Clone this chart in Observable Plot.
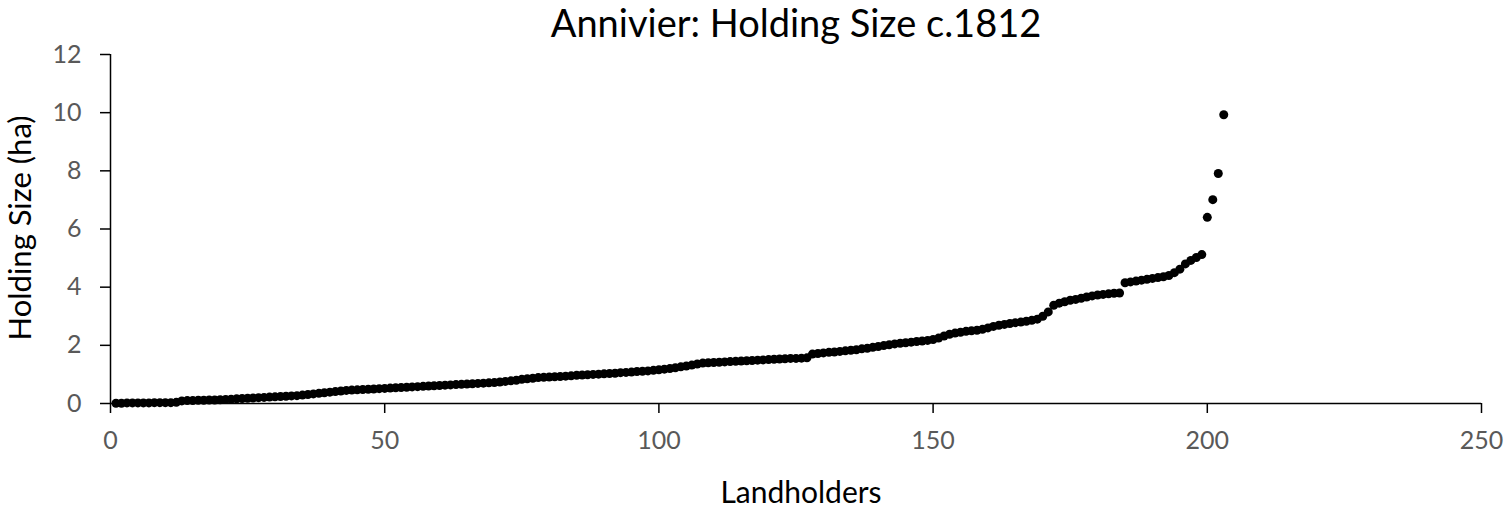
<!DOCTYPE html>
<html>
<head>
<meta charset="utf-8">
<script src="https://cdn.jsdelivr.net/npm/d3@7"></script>
<script src="https://cdn.jsdelivr.net/npm/@observablehq/plot@0.6"></script>
<style>
  html, body { margin: 0; padding: 0; background: #fff; }
  svg { display: block; }
</style>
</head>
<body>
<div id="chart"></div>
<script>
// Holding size (ha) of each landholder, sorted ascending (rank 1..203)
const holdingSizes = [
  0.01,0.01,0.02,0.02,0.02,0.02,0.02,0.03,0.03,0.03,0.03,0.04,
  0.09,0.10,0.10,0.11,0.11,0.12,0.12,0.13,
  0.14,0.15,0.16,0.17,0.18,0.19,0.20,0.21,0.22,0.23,
  0.24,0.25,0.26,0.27,0.29,0.31,0.33,0.35,0.37,0.39,
  0.41,0.43,0.45,0.46,0.47,0.48,0.49,0.50,0.51,0.52,
  0.53,0.54,0.55,0.56,0.57,0.58,0.59,0.60,0.61,0.62,
  0.63,0.64,0.65,0.66,0.67,0.68,0.69,0.70,0.71,0.72,
  0.74,0.76,0.78,0.80,0.83,0.85,0.87,0.89,0.90,0.91,
  0.92,0.93,0.94,0.95,0.97,0.98,0.99,1.00,1.01,1.02,
  1.03,1.04,1.06,1.07,1.08,1.10,1.11,1.12,1.14,1.16,
  1.18,1.20,1.23,1.26,1.29,1.32,1.36,1.39,1.40,1.41,
  1.42,1.43,1.44,1.45,1.46,1.47,1.48,1.49,1.50,1.51,
  1.52,1.53,1.54,1.55,1.55,1.56,1.57,
  1.70,1.72,1.74,
  1.76,1.77,1.79,1.81,1.83,1.85,1.88,1.90,1.93,1.96,
  1.99,2.02,2.05,2.07,2.09,2.11,2.13,2.15,2.17,2.20,
  2.25,2.32,2.38,2.42,2.45,2.48,2.50,2.52,2.55,2.60,
  2.65,2.69,2.72,2.75,2.78,2.80,2.83,2.86,2.90,3.00,
  3.15,3.38,
  3.45,3.50,3.55,3.58,3.62,3.66,3.70,3.73,
  3.75,3.77,3.79,3.80,
  4.15,4.18,4.21,4.24,4.27,4.30,4.33,4.36,4.40,4.50,4.62,4.80,4.92,5.02,5.12,
  6.40,7.01,7.91,9.93
];
const xTicks = [0, 50, 100, 150, 200, 250];
const yTicks = [0, 2, 4, 6, 8, 10, 12];
const chartTitle = "Annivier: Holding Size c.1812";
const xTitle = "Landholders";
const yTitle = "Holding Size (ha)";

const data = holdingSizes.map((v, i) => ({rank: i + 1, size: v}));

const font = "Lato, 'Open Sans', sans-serif";
const chart = Plot.plot({
  width: 1508,
  height: 517,
  marginLeft: 110,
  marginRight: 27,
  marginTop: 54,
  marginBottom: 114,
  style: {fontFamily: font, background: "#fff"},
  x: {domain: [0, 250], ticks: xTicks},
  y: {domain: [0, 12], ticks: yTicks},
  marks: [
    Plot.axisX({ticks: xTicks, tickSize: 10, tickPadding: 18, fontSize: 25, fill: "#595959", stroke: "#000", strokeWidth: 1.5, label: null}),
    Plot.axisY({ticks: yTicks, tickSize: 10, tickPadding: 19, fontSize: 25, fill: "#595959", stroke: "#000", strokeWidth: 1.5, label: null}),
    Plot.ruleY([0], {stroke: "#000", strokeWidth: 1.5}),
    Plot.ruleX([0], {stroke: "#000", strokeWidth: 1.5}),
    Plot.dot(data, {x: "rank", y: "size", r: 4.5, fill: "#000", stroke: "none"}),
    Plot.text([chartTitle], {frameAnchor: "top", textAnchor: "middle", dy: -44, fontSize: 38, fill: "#000"}),
    Plot.text([xTitle], {frameAnchor: "bottom", textAnchor: "middle", dx: 5, dy: 99, fontSize: 30, fill: "#000"}),
    Plot.text([yTitle], {frameAnchor: "left", textAnchor: "middle", rotate: -90, dx: -89, dy: -1, fontSize: 31, fill: "#000"})
  ]
});
document.getElementById("chart").appendChild(chart);
</script>
</body>
</html>
